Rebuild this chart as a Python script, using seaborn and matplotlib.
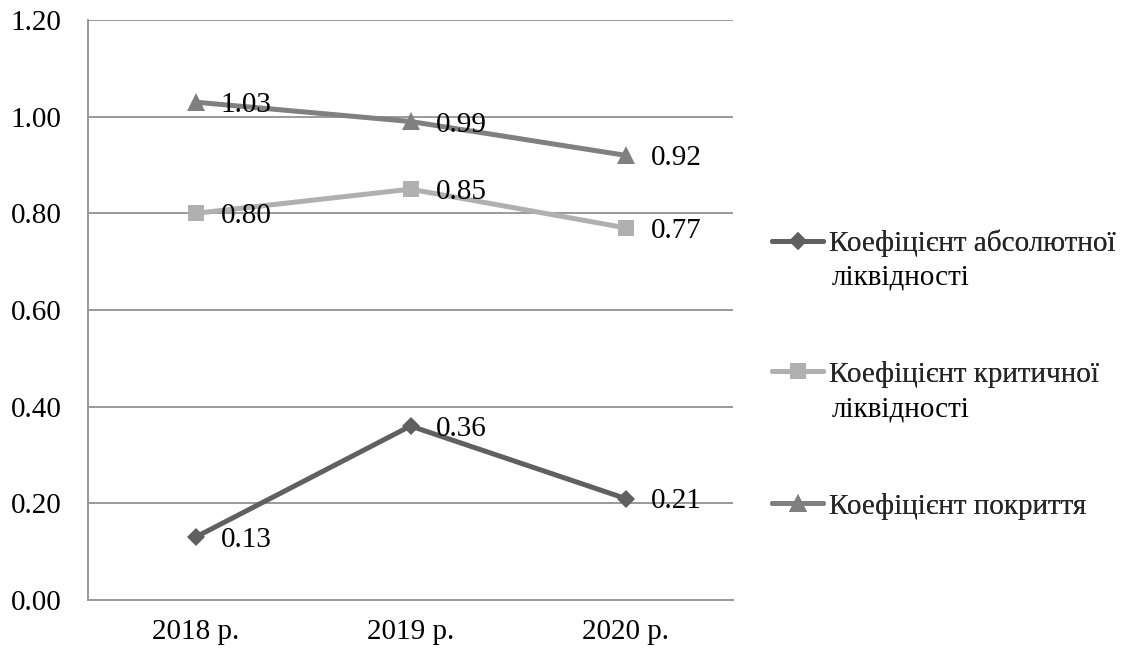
import matplotlib
matplotlib.use("Agg")
import matplotlib.pyplot as plt
import matplotlib.ticker as mticker
import pandas as pd
import seaborn as sns

years = ["2018 р.", "2019 р.", "2020 р."]
series_names = [
    "Коефіцієнт абсолютної ліквідності",
    "Коефіцієнт критичної ліквідності",
    "Коефіцієнт покриття",
]
absolute = [0.13, 0.36, 0.21]
critical = [0.80, 0.85, 0.77]
coverage = [1.03, 0.99, 0.92]

COLORS = ["#606060", "#b0b0b0", "#808080"]
MARKERS = ["D", "s", "^"]
MSIZE = [9, 11.5, 12.5]

sns.set_theme(style="white")
plt.rcParams["font.family"] = ["Liberation Serif", "DejaVu Serif"]

df = pd.DataFrame({
    "Year": years * 3,
    "Value": absolute + critical + coverage,
    "Series": [n for n in series_names for _ in years],
})

fig = plt.figure(figsize=(11.33, 6.52), dpi=100)
ax = fig.add_axes([88 / 1133, 1 - 600 / 652, 645 / 1133, 580 / 652])

for name, color, marker, ms in zip(series_names, COLORS, MARKERS, MSIZE):
    part = df[df["Series"] == name]
    sns.lineplot(data=part, x="Year", y="Value", sort=False, color=color,
                 marker=marker, markersize=ms, markeredgewidth=0, linewidth=3.6,
                 ax=ax, label=name, legend=False)
    for i, v in enumerate(part["Value"]):
        ax.annotate(f"{v:.2f}", (i, v), xytext=(18, 0), textcoords="offset points",
                    ha="left", va="center_baseline", fontsize=21, color="black")

ax.set_xlim(-0.5, 2.5)
ax.set_ylim(0, 1.2)
ax.yaxis.set_major_locator(mticker.MultipleLocator(0.2))
ax.yaxis.set_major_formatter(mticker.FormatStrFormatter("%.2f"))
ax.set_xticks([0, 1, 2])
ax.set_xticks([-0.5, 0.5, 1.5, 2.5], minor=True)
ax.tick_params(axis="x", which="major", length=0, pad=14, labelsize=21, colors="black")
ax.tick_params(axis="x", which="minor", length=5, width=1.2, direction="out", color="#999999")
ax.tick_params(axis="y", length=7, width=1.2, direction="out", color="#999999", pad=12,
               labelsize=21, labelcolor="black")
ax.grid(axis="y", color="#9a9a9a", linewidth=1.4)
ax.set_axisbelow(True)
ax.set_xlabel("")
ax.set_ylabel("")
for side in ["top", "right"]:
    ax.spines[side].set_visible(False)
for side in ["left", "bottom"]:
    ax.spines[side].set_color("#999999")
    ax.spines[side].set_linewidth(1.4)

# legend: one entry per block, Excel style with wrapped text
lines = ax.get_lines()
legend_y = [243, 374, 506]
first_lines = ["Коефіцієнт абсолютної", "Коефіцієнт критичної", "Коефіцієнт покриття"]
for line, y, txt in zip(lines, legend_y, first_lines):
    leg = fig.legend([line], [txt], loc="center left",
                     bbox_to_anchor=(772 / 1133, 1 - y / 652), frameon=False,
                     fontsize=21, handlelength=1.75, handletextpad=0.2,
                     borderpad=0, borderaxespad=0, numpoints=1)
    fig.add_artist(leg)
for y in [275, 407]:
    fig.text(832 / 1133, 1 - y / 652, "ліквідності", fontsize=21,
             ha="left", va="center_baseline", color="black")

fig.savefig("out.png", dpi=100)
